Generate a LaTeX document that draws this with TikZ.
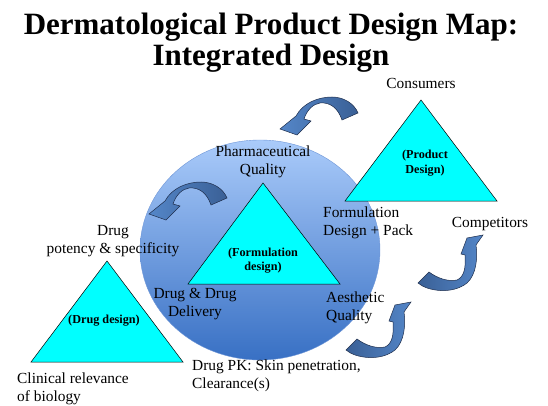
\documentclass[tikz,border=0pt]{standalone}
\usepackage{fontspec}
\setmainfont{Liberation Serif}
\definecolor{tricyan}{RGB}{0,255,255}
\definecolor{ctop}{RGB}{170,203,250}
\definecolor{cmid}{RGB}{120,165,232}
\definecolor{cbot}{RGB}{56,112,196}
\definecolor{cedge}{RGB}{110,150,215}
\definecolor{arlight}{RGB}{84,134,200}
\definecolor{ardark}{RGB}{58,96,150}
\definecolor{arline}{RGB}{30,45,75}
\newcommand\tlc[1]{\begin{tabular}[t]{@{}c@{}}#1\end{tabular}}
\newcommand\tll[1]{\begin{tabular}[t]{@{}l@{}}#1\end{tabular}}
\begin{document}
\begin{tikzpicture}[x=1pt,y=-1pt,
  lab/.style={inner sep=0pt, anchor=base, font=\fontsize{15.4}{18}\selectfont},
  labl/.style={inner sep=0pt, anchor=base west, font=\fontsize{15.4}{18}\selectfont},
  blab/.style={inner sep=0pt, anchor=base, font=\bfseries\fontsize{12.2}{14}\selectfont},
  ttl/.style={inner sep=0pt, anchor=base, font=\bfseries\fontsize{31}{29}\selectfont},
  tri/.style={fill=tricyan, draw=black, line width=0.5pt},
  arc arrow/.style={draw=arline, line width=0.5pt},
  pics/downarrow/.style={code={
    \path[arc arrow, left color=arlight, right color=ardark]
      (0,0) .. controls (-4,-10) and (-15,-16) .. (-26,-16)
      .. controls (-40,-16) and (-55,-10) .. (-62,3)
      -- (-78,16) -- (-61,22) -- (-47,8) -- (-54,6)
      .. controls (-51,-3) and (-45,-9) .. (-38,-10)
      .. controls (-28,-11) and (-20,-5) .. (-16,7) -- cycle;
  }},
  pics/uparrow/.style={code={
    \path[arc arrow, left color=ardark, right color=arlight]
      (0,0) .. controls (9,8) and (34,12) .. (49,0)
      .. controls (58,-8) and (60,-25) .. (58,-38)
      -- (65,-48) -- (49,-45) -- (43,-29) -- (47,-28)
      .. controls (48,-15) and (46,-6) .. (39,-3)
      .. controls (30,-1) and (19,-5) .. (11,-11) -- cycle;
  }}]
\useasboundingbox (0,0) rectangle (548,406);

% title
\node[ttl] (title) at (271,35) {\tlc{Dermatological Product Design Map:\\Integrated Design}};

% central sphere
\shade[top color=ctop, middle color=cmid, bottom color=cbot]
  (260,250) ellipse [x radius=120, y radius=110];
\draw[cedge, line width=0.4pt] (260,250) ellipse [x radius=120, y radius=110];

% triangles
\filldraw[tri] (107,261) -- (183,362) -- (31,362) -- cycle;
\filldraw[tri] (263,183) -- (340,284) -- (188,284) -- cycle;
\filldraw[tri] (421,100) -- (497,201) -- (345,201) -- cycle;

% curved block arrows
\pic (a1) at (358,113) {downarrow};
\pic (a2) at (227,198) {downarrow};
\pic (a3) at (346,350) {uparrow};
\pic (a4) at (418,283) {uparrow};

% labels inside triangles
\node[blab] (drugdesign) at (104,323) {(Drug design)};
\node[blab] (formdesign) at (263,256) {\tlc{(Formulation\\design)}};
\node[blab] (proddesign) at (425,159) {\tlc{(Product\\Design)}};

% other labels
\node[lab] (consumers) at (421,89) {Consumers};
\node[lab] (pharmq) at (263,157) {\tlc{Pharmaceutical\\Quality}};
\node[labl] (formpack) at (323,217) {\tll{Formulation\\Design + Pack}};
\node[lab] (competitors) at (490,227) {Competitors};
\node[lab] (potency) at (113,235) {\tlc{Drug\\potency \& specificity}};
\node[lab] (delivery) at (195,298) {\tlc{Drug \& Drug\\Delivery}};
\node[labl] (aesthetic) at (326,302) {\tll{Aesthetic\\Quality}};
\node[labl] (clinical) at (17,383) {\tll{Clinical relevance\\of biology}};
\node[labl] (drugpk) at (192,370) {\tll{Drug PK: Skin penetration,\\Clearance(s)}};
\end{tikzpicture}
\end{document}
